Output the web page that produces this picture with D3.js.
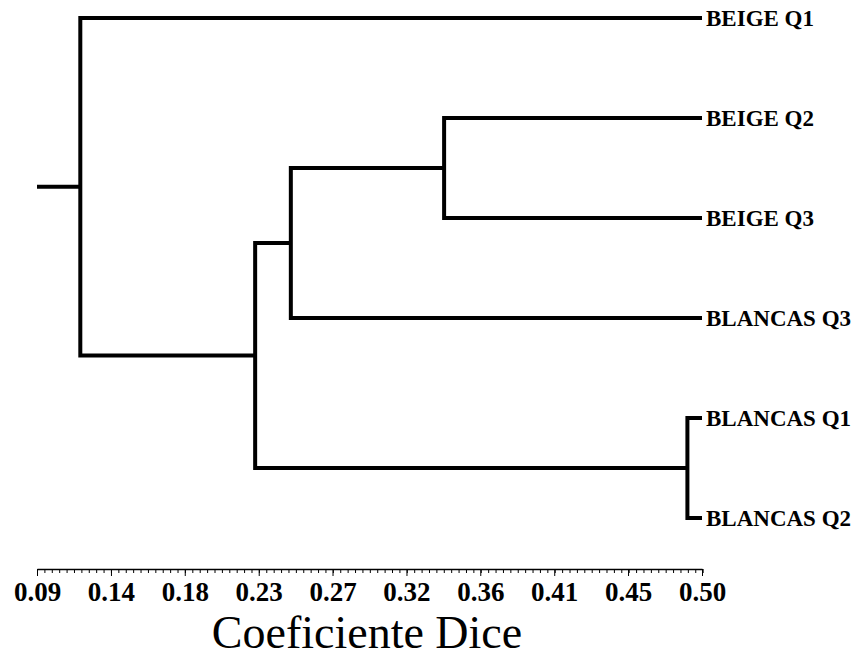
<!DOCTYPE html>
<html>
<head>
<meta charset="utf-8">
<script src="https://cdn.jsdelivr.net/npm/d3@7"></script>
<style>
  body { margin: 0; background: #fff; }
</style>
</head>
<body>
<div id="my_dataviz"></div>
<script>
const width = 860;
const height = 660;
const serif = "'Liberation Serif', 'Times New Roman', Times, 'DejaVu Serif', serif";

// leaves, top to bottom
const leafLabels = ["BEIGE Q1", "BEIGE Q2", "BEIGE Q3", "BLANCAS Q3", "BLANCAS Q1", "BLANCAS Q2"];
const leafValue = 0.50;

// merges: ids 0-5 are leaves, merge i gets id 6 + i
const mergeLeft = [4, 1, 7, 8, 0];
const mergeRight = [5, 2, 3, 6, 9];
const mergeValue = [0.491, 0.341, 0.2465, 0.2245, 0.1167];

// axis ticks
const tickValues = [0.09, 0.1356, 0.1811, 0.2267, 0.2722, 0.3178, 0.3633, 0.4089, 0.4544, 0.50];
const tickLabels = ["0.09", "0.14", "0.18", "0.23", "0.27", "0.32", "0.36", "0.41", "0.45", "0.50"];
const axisTitle = "Coeficiente Dice";

const svg = d3.select("#my_dataviz")
    .append("svg")
    .attr("width", width)
    .attr("height", height)
    .attr("font-family", serif);

const xScale = d3.scaleLinear()
    .domain([0.09, 0.50])
    .range([37, 702]);

const yScale = d3.scalePoint()
    .domain(leafLabels)
    .range([18, 518]);

// build node positions
const nodes = leafLabels.map(d => ({ x: xScale(leafValue), y: yScale(d) }));
mergeValue.forEach((v, i) => {
    const a = nodes[mergeLeft[i]], b = nodes[mergeRight[i]];
    nodes.push({ x: xScale(v), y: (a.y + b.y) / 2, a: a, b: b });
});
const root = nodes[nodes.length - 1];

const tree = svg.append("g")
    .attr("fill", "none")
    .attr("stroke", "#000")
    .attr("stroke-width", 4)
    .attr("stroke-linejoin", "miter");

tree.selectAll("path")
    .data(nodes.filter(d => d.a))
    .enter()
    .append("path")
    .attr("d", d => `M${d.a.x},${d.a.y}H${d.x}V${d.b.y}H${d.b.x}`);

// root stub
tree.append("path")
    .attr("d", `M${xScale(0.09)},${root.y}H${root.x}`);

// leaf labels
svg.selectAll(".leaf")
    .data(leafLabels)
    .enter()
    .append("text")
    .attr("class", "leaf")
    .attr("x", xScale(leafValue) + 4)
    .attr("y", d => yScale(d))
    .attr("dy", "0.35em")
    .attr("font-family", serif)
    .attr("font-size", 23)
    .attr("font-weight", "bold")
    .text(d => d);

// Add X Axis
const axisY = 569;
const minorStep = (tickValues[1] - tickValues[0]) / 10;

svg.append("g")
    .attr("transform", `translate(0,${axisY})`)
    .call(d3.axisBottom(xScale)
        .tickValues(d3.range(0, 91).map(i => 0.09 + i * minorStep))
        .tickSize(4)
        .tickFormat(""))
    .call(g => g.select(".domain").remove());

const axis = svg.append("g")
    .attr("transform", `translate(0,${axisY})`)
    .call(d3.axisBottom(xScale)
        .tickValues(tickValues)
        .tickSize(7)
        .tickSizeOuter(0)
        .tickFormat((d, i) => tickLabels[i]));

axis.attr("font-family", serif).attr("font-size", 27).attr("font-weight", "bold");
axis.selectAll("line").attr("stroke", "#000");
axis.select(".domain").attr("stroke", "#000").attr("stroke-width", 1.3);
axis.selectAll("text")
    .attr("y", 32)
    .attr("dy", 0)
    .attr("fill", "#000");

// Add X Axis label
svg.append("text")
    .attr("text-anchor", "middle")
    .attr("x", 367)
    .attr("y", 648)
    .attr("font-family", serif)
    .attr("font-size", 46)
    .text(axisTitle);
</script>
</body>
</html>
